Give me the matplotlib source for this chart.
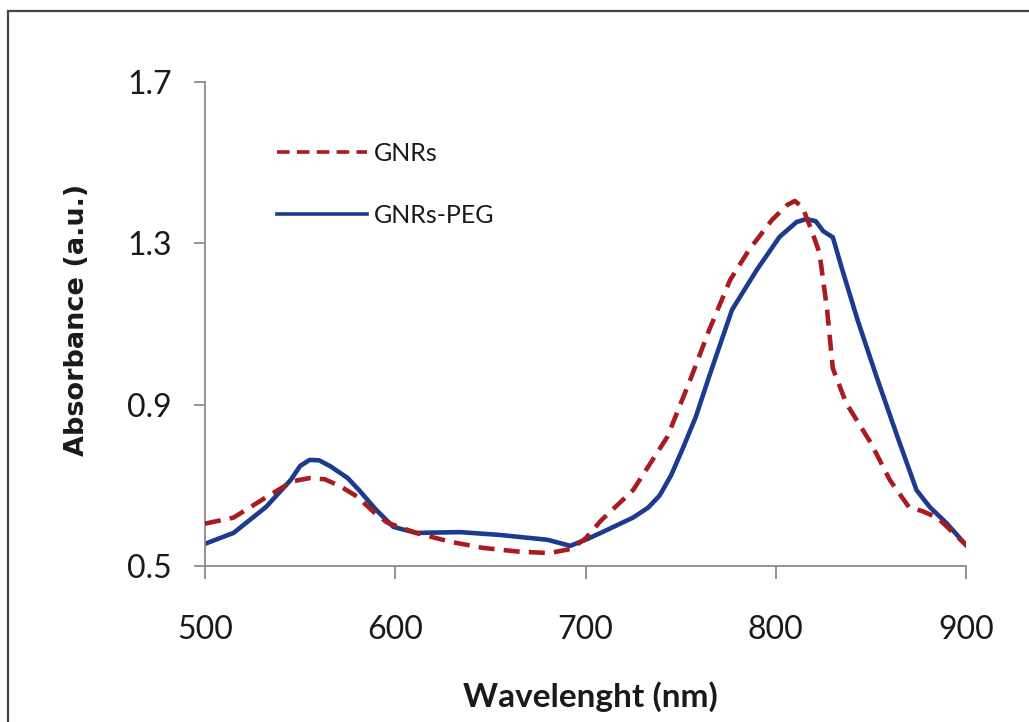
import matplotlib
matplotlib.use("Agg")
import matplotlib.pyplot as plt
from matplotlib.patches import Rectangle

# ---- data ----
gnrs_x = [500, 515, 532, 546, 555, 563, 571, 580, 590, 596, 611, 629, 646, 664, 681, 692,
          700, 708, 725, 743, 755, 765, 776, 786, 798, 806, 810, 814, 819, 823, 827, 830,
          837, 850, 860, 870, 877, 885, 900]
gnrs_y = [0.605, 0.62, 0.67, 0.71, 0.718, 0.715, 0.698, 0.672, 0.628, 0.607, 0.582, 0.56,
          0.545, 0.536, 0.532, 0.542, 0.568, 0.612, 0.688, 0.82, 0.961, 1.085, 1.209, 1.284,
          1.358, 1.395, 1.405, 1.39, 1.33, 1.276, 1.135, 0.99, 0.904, 0.805, 0.713, 0.646,
          0.636, 0.62, 0.552]

peg_x = [500, 515, 532, 545, 550, 555, 560, 566, 575, 581, 590, 599, 611, 634, 655, 680,
         692, 700, 708, 725, 733, 739, 745, 751, 758, 765, 777, 790, 802, 811, 816, 821,
         825, 830, 835, 843, 853, 864, 874, 881, 890, 900]
peg_y = [0.555, 0.582, 0.646, 0.713, 0.748, 0.763, 0.762, 0.747, 0.718, 0.688, 0.639, 0.597,
         0.582, 0.584, 0.577, 0.565, 0.55, 0.565, 0.582, 0.62, 0.645, 0.675, 0.725, 0.79,
         0.87, 0.97, 1.135, 1.234, 1.316, 1.353, 1.36, 1.355, 1.33, 1.315, 1.234, 1.11,
         0.969, 0.82, 0.688, 0.646, 0.605, 0.552]

x_ticks = [500, 600, 700, 800, 900]
y_ticks = [0.5, 0.9, 1.3, 1.7]
series_labels = ["GNRs", "GNRs-PEG"]
x_label = "Wavelenght (nm)"
y_label = "Absorbance (a.u.)"

plt.rcParams['font.family'] = ['Lato', 'DejaVu Sans']

W, H = 1029, 722
fig = plt.figure(figsize=(W / 100, H / 100), dpi=100)
fig.patch.set_facecolor('white')

# outer frame (right and bottom edges run off the image)
fig.patches.append(Rectangle((8 / W, -0.05), 1.2, (H - 11) / H + 0.05,
                             transform=fig.transFigure, fill=False,
                             edgecolor='#444444', linewidth=1.6))

ax = fig.add_axes([205 / W, 1 - 566 / H, (966 - 205) / W, (566 - 82) / H])

red = '#A81C1F'
blue = '#1C3A8E'
ax.plot(gnrs_x, gnrs_y, color=red, linewidth=3.3, linestyle=(0, (3.5, 2)),
        label=series_labels[0], zorder=3)
ax.plot(peg_x, peg_y, color=blue, linewidth=3.3, label=series_labels[1], zorder=2)

ax.set_xlim(500, 900)
ax.set_ylim(0.5, 1.7)
ax.set_xticks(x_ticks)
ax.set_yticks(y_ticks)
ax.set_xticklabels([str(v) for v in x_ticks])
ax.set_yticklabels([f"{v:.1f}" for v in y_ticks])

for s in ['top', 'right']:
    ax.spines[s].set_visible(False)
for s in ['left', 'bottom']:
    ax.spines[s].set_color('#8a8a8a')
    ax.spines[s].set_linewidth(1.3)

ax.tick_params(axis='both', direction='out', width=1.3, color='#8a8a8a',
               labelsize=23, labelcolor='#1a1a1a')
ax.tick_params(axis='x', length=9, pad=26)
ax.tick_params(axis='y', length=8, pad=16)

ax.set_xlabel(x_label, fontsize=24, fontweight='bold', color='#1a1a1a')
ax.xaxis.set_label_coords(0.507, -0.238)
ax.set_ylabel(y_label, fontsize=19.5, fontweight='bold', color='#1a1a1a',
              family=['DejaVu Sans'])
ax.yaxis.set_label_coords(-0.151, 0.508)

leg = ax.legend(loc='upper left', bbox_to_anchor=(0.081, 0.897), frameon=False,
                fontsize=18, handlelength=3.6, handletextpad=0.3, labelspacing=1.56,
                borderaxespad=0)
for line in leg.get_lines():
    line.set_linewidth(2.6)
for t in leg.get_texts():
    t.set_color('#1a1a1a')

fig.savefig('out.png', dpi=100, facecolor='white')
